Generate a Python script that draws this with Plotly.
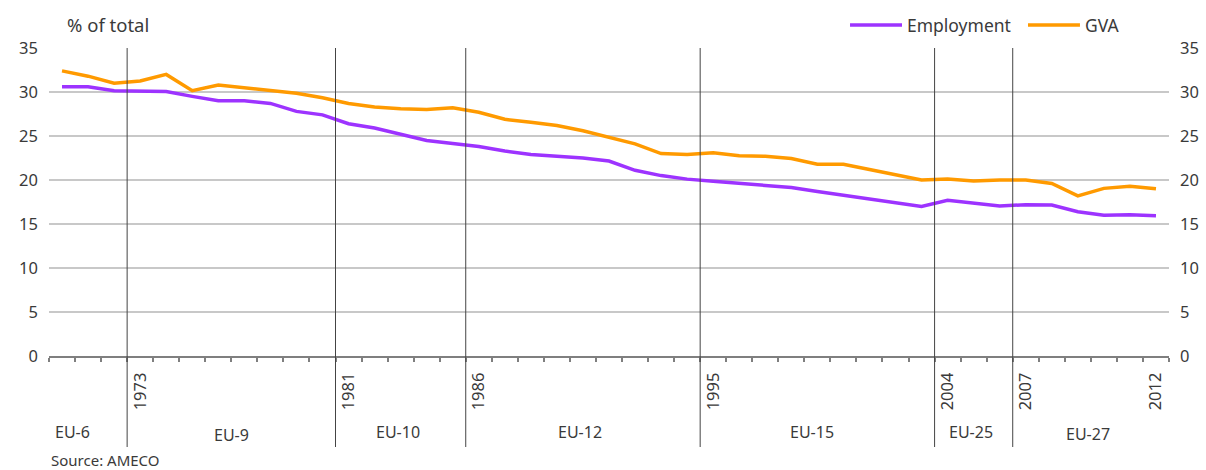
import plotly.graph_objects as go

years = list(range(1970, 2013))
employment = [30.6, 30.6, 30.15, 30.1, 30.05, 29.5, 29.0, 29.0, 28.7, 27.8,
              27.4, 26.4, 25.9, 25.2, 24.5, 24.15, 23.8, 23.3, 22.9, 22.7,
              22.5, 22.15, 21.1, 20.5, 20.1, 19.85, 19.6, 19.4, 19.15, 18.7,
              18.3, 17.9, 17.5, 17.0, 17.7, 17.35, 17.05, 17.2, 17.15, 16.4,
              16.0, 16.05, 15.95]
gva = [32.4, 31.8, 31.0, 31.25, 32.0, 30.15, 30.8, 30.5, 30.15, 29.85,
       29.35, 28.7, 28.3, 28.1, 28.0, 28.2, 27.7, 26.9, 26.55, 26.2,
       25.6, 24.8, 24.1, 23.0, 22.9, 23.1, 22.75, 22.7, 22.45, 21.8,
       21.8, 21.2, 20.6, 20.0, 20.1, 19.9, 20.0, 20.0, 19.6, 18.2,
       19.05, 19.3, 19.0]
label_years = [1973, 1981, 1986, 1995, 2004, 2007, 2012]
enlargement_years = [1973, 1981, 1986, 1995, 2004, 2007]
groups = ["EU-6", "EU-9", "EU-10", "EU-12", "EU-15", "EU-25", "EU-27"]

# layout positions for group labels
group_x = [1970.42, 1976.5, 1982.9, 1989.9, 1998.8, 2004.9, 2009.4]
group_y = [-0.247, -0.258, -0.247, -0.247, -0.247, -0.247, -0.252]

PURPLE = "#9D33FF"
ORANGE = "#FF9A00"
TXT = "#3a3a3a"
FONT = "Noto Sans"

fig = go.Figure()
fig.add_trace(go.Scatter(x=years, y=employment, mode="lines", name="Employment",
                         line=dict(color=PURPLE, width=3.5), showlegend=False))
fig.add_trace(go.Scatter(x=years, y=gva, mode="lines", name="GVA",
                         line=dict(color=ORANGE, width=3.5), showlegend=False))
# invisible trace for right axis
fig.add_trace(go.Scatter(x=[years[0]], y=[0], yaxis="y2", mode="markers",
                         marker=dict(opacity=0), showlegend=False, hoverinfo="skip"))

shapes = []
for yr in enlargement_years:
    shapes.append(dict(type="line", xref="x", yref="paper", x0=yr - 0.5, x1=yr - 0.5,
                       y0=-0.2955, y1=1, line=dict(color="#444444", width=1)))
# manual legend
leg_y = 1.0747
shapes.append(dict(type="line", xref="paper", yref="paper", x0=0.7152, x1=0.7616,
                   y0=leg_y, y1=leg_y, line=dict(color=PURPLE, width=3.5)))
shapes.append(dict(type="line", xref="paper", yref="paper", x0=0.8741, x1=0.9205,
                   y0=leg_y, y1=leg_y, line=dict(color=ORANGE, width=3.5)))

annotations = []
for g, gx, gy in zip(groups, group_x, group_y):
    annotations.append(dict(text=g, x=gx, y=gy, xref="x", yref="paper", showarrow=False,
                            xanchor="center", yanchor="middle",
                            font=dict(family=FONT, size=16, color=TXT)))
annotations.append(dict(text="Employment", x=0.764, y=leg_y, xref="paper", yref="paper",
                        showarrow=False, xanchor="left", yanchor="middle",
                        font=dict(family=FONT, size=17.5, color=TXT)))
annotations.append(dict(text="GVA", x=0.923, y=leg_y, xref="paper", yref="paper",
                        showarrow=False, xanchor="left", yanchor="middle",
                        font=dict(family=FONT, size=17.5, color=TXT)))
annotations.append(dict(text="% of total", x=0.014, y=leg_y, xref="paper", yref="paper",
                        showarrow=False, xanchor="left", yanchor="middle",
                        font=dict(family=FONT, size=18.5, color=TXT)))
annotations.append(dict(text="Source: AMECO", x=0.0, y=-0.338, xref="paper", yref="paper",
                        showarrow=False, xanchor="left", yanchor="middle",
                        font=dict(family=FONT, size=15, color=TXT)))

yaxis_common = dict(range=[0, 35], tickvals=[0, 5, 10, 15, 20, 25, 30, 35],
                    ticks="", tickfont=dict(family=FONT, size=16.5, color=TXT),
                    ticklabelstandoff=10, fixedrange=True)

fig.update_layout(
    width=1206, height=470,
    margin=dict(l=49, r=37, t=48, b=114, autoexpand=False),
    paper_bgcolor="white", plot_bgcolor="white",
    showlegend=False,
    xaxis=dict(range=[1969.5, 2012.5], tickvals=label_years,
               ticktext=[str(v) for v in label_years], tickangle=-90,
               ticks="", ticklabelstandoff=8, fixedrange=True,
               tickfont=dict(family=FONT, size=16.5, color=TXT),
               showgrid=False, zeroline=False,
               showline=True, linecolor="#7f7f7f", linewidth=2,
               minor=dict(tickvals=[1969.5 + k for k in range(44)], ticks="outside",
                          ticklen=4, tickcolor="#7f7f7f", tickwidth=1.5, showgrid=False)),
    yaxis=dict(**yaxis_common, showgrid=True, gridcolor="#c8c8c8", gridwidth=1.5,
               zeroline=False, side="left"),
    yaxis2=dict(**yaxis_common, overlaying="y", side="right", showgrid=False,
                zeroline=False, matches="y"),
    shapes=shapes,
    annotations=annotations,
)

fig.write_html("out.html", config={"displayModeBar": False},
               post_script="document.body.style.margin='0';")
